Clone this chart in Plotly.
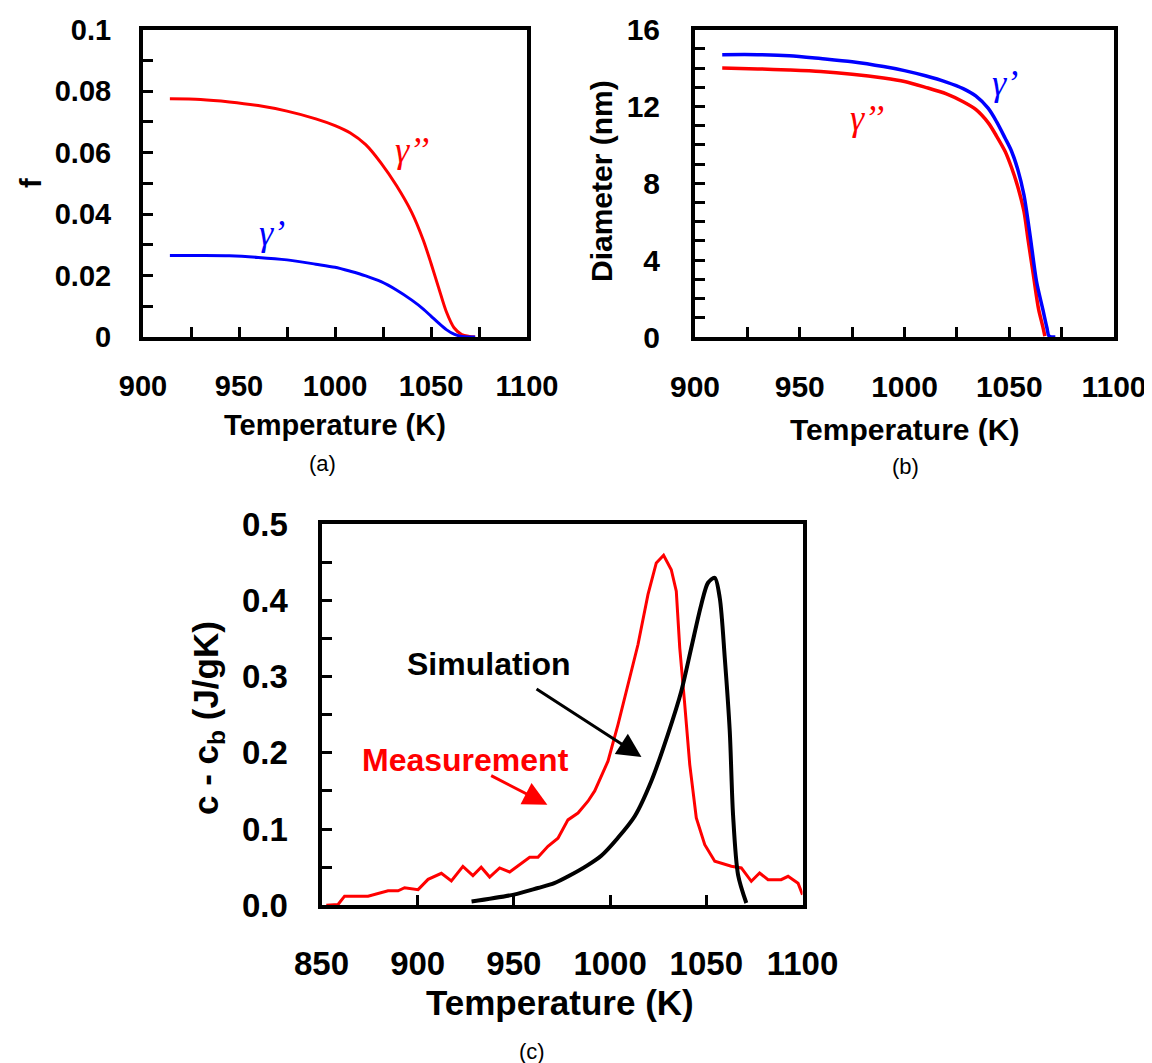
import plotly.graph_objects as go

# (a) phase fraction vs temperature
a_temp = [914, 930, 945, 960, 975, 990, 1000, 1008, 1016, 1024, 1032, 1040, 1046, 1050, 1054, 1058,
          1062, 1066, 1070, 1073]
a_gamma2 = [0.0775, 0.0773, 0.0765, 0.0753, 0.0735, 0.0710, 0.0688, 0.0664, 0.0626, 0.0566, 0.0493,
            0.0405, 0.0315, 0.0240, 0.0160, 0.0082, 0.0030, 0.0008, 0.0002, 0.0]
a_gamma1 = [0.0265, 0.0265, 0.0264, 0.0259, 0.0251, 0.0237, 0.0227, 0.0214, 0.0199, 0.0180, 0.0153,
            0.0120, 0.0091, 0.0068, 0.0045, 0.0024, 0.0009, 0.0002, 0.0, 0.0]

# (b) precipitate diameter vs temperature
b_temp_g1 = [913, 930, 945, 960, 975, 990, 1000, 1010, 1020, 1028, 1034, 1040, 1044, 1048, 1051, 1054,
             1057, 1060, 1063, 1066, 1068, 1069, 1072]
b_gamma1 = [14.7, 14.7, 14.65, 14.5, 14.33, 14.08, 13.87, 13.6, 13.27, 12.93, 12.55, 11.9, 11.2, 10.36,
            9.7, 8.75, 7.4, 5.25, 2.9, 1.45, 0.47, 0.05, 0.0]
b_temp_g2 = [913, 930, 945, 960, 975, 990, 1000, 1010, 1020, 1028, 1034, 1040, 1044, 1048, 1051, 1054,
             1057, 1059, 1061.5, 1064, 1066, 1067]
b_gamma2 = [14.01, 13.96, 13.9, 13.82, 13.68, 13.48, 13.3, 13.0, 12.66, 12.25, 11.85, 11.15, 10.45, 9.67,
            8.85, 7.85, 6.55, 5.05, 3.24, 1.45, 0.55, 0.04]

# (c) excess heat capacity
c_sim_temp = [928, 950, 962.5, 971, 979, 988, 995.4, 1004, 1012.8, 1021.4, 1030, 1037, 1042.2, 1047.4,
              1050.9, 1054.4, 1057, 1059.6, 1062.2, 1063.9, 1066.5, 1070.8]
c_sim = [0.005, 0.014, 0.0227, 0.029, 0.039, 0.052, 0.065, 0.0883, 0.1168, 0.1627, 0.2239, 0.2808,
         0.3377, 0.3945, 0.423, 0.4295, 0.403, 0.3245, 0.228, 0.119, 0.040, 0.003]
c_meas_temp = [852.5, 858.6, 862, 874.2, 884.6, 889.8, 893.2, 900.2, 905.4, 912.3, 917.5, 923.5, 928.7,
               933, 937.4, 942.6, 947.8, 953.8, 958.2, 962.5, 967.7, 972.9, 978.1, 983.3, 988.5, 992,
               998.9, 1004.1, 1010.2, 1014.5, 1019.7, 1024, 1027.8, 1031.8, 1034.4, 1036.2, 1038.8,
               1041.4, 1044.8, 1049.2, 1054.4, 1063, 1068.2, 1073.4, 1077.7, 1082.1, 1088.9, 1092.5,
               1097.7, 1100]
c_meas = [0, 0.001, 0.012, 0.012, 0.019, 0.019, 0.023, 0.0205, 0.034, 0.042, 0.032, 0.051, 0.039, 0.050,
          0.037, 0.049, 0.0437, 0.0555, 0.063, 0.063, 0.0774, 0.088, 0.112, 0.121, 0.1365, 0.15, 0.189,
          0.237, 0.298, 0.342, 0.4076, 0.449, 0.459, 0.440, 0.412, 0.3377, 0.263, 0.1845, 0.1146, 0.0795,
          0.0577, 0.0512, 0.049, 0.0315, 0.0424, 0.0336, 0.0336, 0.038, 0.029, 0.014]

W, H = 1152, 1063
FONT = "Liberation Sans, Arial, sans-serif"
SERIF = "Liberation Serif, Times New Roman, serif"
RED = "#ff0000"
BLUE = "#0000ff"


def dom_x(p0, p1):
    return [p0 / W, p1 / W]


def dom_y(p0, p1):
    # p0 = bottom pixel, p1 = top pixel
    return [1 - p0 / H, 1 - p1 / H]


def axis(domain, anchor, rng, dtick, minor, size, standoff, fmt=None):
    ax = dict(
        domain=domain,
        anchor=anchor,
        range=rng,
        tick0=rng[0],
        dtick=dtick,
        automargin=False,
        ticks="inside",
        ticklen=10,
        tickwidth=3,
        tickcolor="black",
        showline=True,
        linewidth=4,
        linecolor="black",
        mirror=True,
        showgrid=False,
        zeroline=False,
        tickfont=dict(family=FONT, size=size, color="black", weight="bold"),
        ticklabelstandoff=standoff,
    )
    if minor:
        ax["minor"] = dict(dtick=minor, ticks="inside", ticklen=10, tickwidth=3,
                           tickcolor="black", showgrid=False)
    if fmt:
        ax["tickformat"] = fmt
    return ax


fig = go.Figure()

smooth = dict(shape="spline", smoothing=0.8)
fig.add_trace(go.Scatter(x=a_temp, y=a_gamma2, mode="lines", xaxis="x", yaxis="y",
                         line=dict(color=RED, width=3, **smooth)))
fig.add_trace(go.Scatter(x=a_temp, y=a_gamma1, mode="lines", xaxis="x", yaxis="y",
                         line=dict(color=BLUE, width=3, **smooth)))
fig.add_trace(go.Scatter(x=b_temp_g2, y=b_gamma2, mode="lines", xaxis="x2", yaxis="y2",
                         line=dict(color=RED, width=3.5, **smooth)))
fig.add_trace(go.Scatter(x=b_temp_g1, y=b_gamma1, mode="lines", xaxis="x2", yaxis="y2",
                         line=dict(color=BLUE, width=3.5, **smooth)))
fig.add_trace(go.Scatter(x=c_meas_temp, y=c_meas, mode="lines", xaxis="x3", yaxis="y3",
                         line=dict(color=RED, width=3)))
fig.add_trace(go.Scatter(x=c_sim_temp, y=c_sim, mode="lines", xaxis="x3", yaxis="y3",
                         line=dict(color="black", width=4, **smooth)))


def label(text, x, y, size, color="black", angle=0, weight="bold", family=FONT, style="normal",
          xref="paper", yref="paper"):
    return dict(text=text, x=x, y=y, xref=xref, yref=yref, showarrow=False, textangle=angle,
                xanchor="center", yanchor="middle",
                font=dict(family=family, size=size, color=color, weight=weight, style=style))


annotations = [
    # panel (a)
    label("Temperature (K)", 327 / W, 1 - 417 / H, 29),
    label("f", 23 / W, 1 - 175 / H, 29, angle=-90),
    label("(a)", 314 / W, 1 - 455 / H, 22, weight="normal"),
    label("γ’’", 1040, 0.061, 36, color=RED, weight="normal", family=SERIF, style="italic",
          xref="x", yref="y"),
    label("γ’", 967, 0.034, 36, color=BLUE, weight="normal", family=SERIF, style="italic",
          xref="x", yref="y"),
    # panel (b)
    label("Temperature (K)", 896 / W, 1 - 421 / H, 30),
    label("Diameter (nm)", 593 / W, 1 - 173 / H, 30, angle=-90),
    label("(b)", 897 / W, 1 - 458 / H, 22, weight="normal"),
    label("γ’", 1048, 13.2, 36, color=BLUE, weight="normal", family=SERIF, style="italic",
          xref="x2", yref="y2"),
    label("γ’’", 982, 11.4, 36, color=RED, weight="normal", family=SERIF, style="italic",
          xref="x2", yref="y2"),
    # panel (c)
    label("Temperature (K)", 552 / W, 1 - 994 / H, 35),
    label("c - c<sub>b</sub> (J/gK)", 200 / W, 1 - 710 / H, 35, angle=-90),
    label("(c)", 524 / W, 1 - 1043 / H, 22, weight="normal"),
    label("Simulation", 937, 0.317, 32, xref="x3", yref="y3"),
    label("Measurement", 925, 0.191, 32, color=RED, xref="x3", yref="y3"),
    dict(x=1016.3, y=0.1946, ax=961, ay=0.285, xref="x3", yref="y3", axref="x3", ayref="y3",
         text="", showarrow=True, arrowhead=2, arrowsize=1.6, arrowwidth=3, arrowcolor="black"),
    dict(x=967.4, y=0.132, ax=937.4, ay=0.171, xref="x3", yref="y3", axref="x3", ayref="y3",
         text="", showarrow=True, arrowhead=2, arrowsize=1.6, arrowwidth=3, arrowcolor=RED),
]

fig.update_layout(
    width=W,
    height=H,
    margin=dict(l=0, r=0, t=0, b=0),
    paper_bgcolor="white",
    plot_bgcolor="white",
    showlegend=False,
    xaxis=axis(dom_x(135, 519), "y", [900, 1100], 50, 25, 29, 20),
    yaxis=axis(dom_y(329, 21.7), "x", [0, 0.1], 0.02, 0.01, 29, 22),
    xaxis2=axis(dom_x(687, 1106), "y2", [900, 1100], 50, 25, 30, 20),
    yaxis2=axis(dom_y(329, 21.7), "x2", [0, 16], 4, 1, 30, 25),
    xaxis3=axis(dom_x(313.5, 794.5), "y3", [850, 1100], 50, None, 33, 26),
    yaxis3=axis(dom_y(897.3, 516), "x3", [0, 0.5], 0.1, 0.05, 33, 23, fmt=".1f"),
    annotations=annotations,
)

fig.write_html("out.html")
